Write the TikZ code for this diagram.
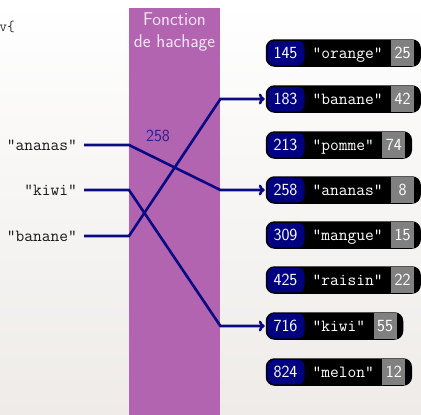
\documentclass[tikz,border=0pt]{standalone}
\usetikzlibrary{arrows.meta}
\definecolor{hpurple}{RGB}{178,100,176}
\definecolor{hnavy}{RGB}{0,0,128}
\definecolor{hline}{RGB}{10,10,130}
\definecolor{hgray}{RGB}{128,128,128}
\definecolor{htitle}{RGB}{247,230,247}
\definecolor{hlabel}{RGB}{45,30,140}
\definecolor{hbgbot}{RGB}{238,235,232}
\setlength\fboxsep{0pt}
\newcommand\bigfont{\fontsize{17}{21}\selectfont}
\newcommand\titlefont{\fontsize{18.5}{22.5}\selectfont\sffamily}
\newcommand\fragfont{\fontsize{15}{18}\selectfont\ttfamily}
\newcommand\entrytxt[3]{\makebox[38pt]{\sffamily #1}\kern8pt{\ttfamily #2}\kern8.5pt\colorbox{hgray}{\makebox[23pt]{\rule[-7.5pt]{0pt}{26pt}\sffamily #3}}\kern6pt\mbox{}}
\tikzset{
  entry/.style={draw=black, line width=1.5pt, fill=black, rounded corners=8pt,
    inner sep=0pt, anchor=west, text=white, font=\bigfont,
    path picture={\fill[hnavy] (path picture bounding box.south west) rectangle ([xshift=38pt]path picture bounding box.north west);}},
  keylab/.style={font=\bigfont\ttfamily, text=black!90, inner xsep=7pt, inner ysep=0pt, anchor=east},
  conn/.style={draw=hline, line width=2.6pt, -{To[length=6pt,width=11pt]}, shorten >=1pt},
}
\begin{document}
\begin{tikzpicture}[x=1pt,y=-1pt]
\useasboundingbox (0,0) rectangle (421,415);
\shade[top color=white, bottom color=hbgbot] (0,0) rectangle (421,415);
\node[font=\fragfont, text=black!80, anchor=base east, inner sep=0pt] (frag) at (15,31) {v\{};
\node[fill=hpurple, draw=none, minimum width=91pt, minimum height=407pt, inner sep=0pt, anchor=north west] (hf) at (129,8) {};
\node[align=center, text=htitle, font=\titlefont, anchor=north, inner sep=0pt] (title) at (174.5,12) {Fonction\\de hachage};
\node[text=hlabel, font=\bigfont\sffamily, inner sep=0pt] (lab) at (158,136) {258};

\node[keylab] (ka) at (84,145) {"ananas"};
\node[keylab] (kk) at (84,190) {"kiwi"};
\node[keylab] (kb) at (84,236) {"banane"};

\node[entry] (v145) at (265.75,53) {\entrytxt{145}{"orange"}{25}};
\node[entry] (v183) at (265.75,99) {\entrytxt{183}{"banane"}{42}};
\node[entry] (v213) at (265.75,145) {\entrytxt{213}{"pomme"}{74}};
\node[entry] (v258) at (265.75,190) {\entrytxt{258}{"ananas"}{8}};
\node[entry] (v309) at (265.75,235) {\entrytxt{309}{"mangue"}{15}};
\node[entry] (v425) at (265.75,280) {\entrytxt{425}{"raisin"}{22}};
\node[entry] (v716) at (265.75,326) {\entrytxt{716}{"kiwi"}{55}};
\node[entry] (v824) at (265.75,372) {\entrytxt{824}{"melon"}{12}};

\draw[conn] (ka.east) -- (ka.east -| hf.west) -- (hf.east |- v258.west) -- (v258.west);
\draw[conn] (kk.east) -- (kk.east -| hf.west) -- (hf.east |- v716.west) -- (v716.west);
\draw[conn] (kb.east) -- (kb.east -| hf.west) -- (hf.east |- v183.west) -- (v183.west);
\end{tikzpicture}
\end{document}
